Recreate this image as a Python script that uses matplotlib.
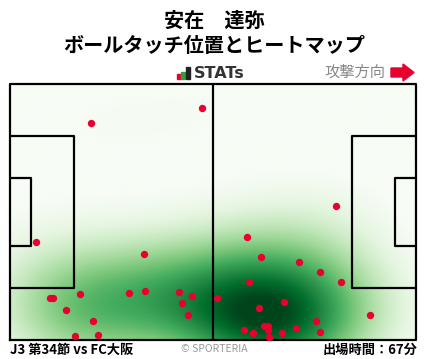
import numpy as np
import matplotlib.pyplot as plt
from matplotlib.patches import Rectangle, Polygon

plt.rcParams['font.family'] = ['Noto Sans CJK JP', 'DejaVu Sans']

# ボールタッチ位置 (m, 105x68, 左下原点)
touch_x = [21.0, 49.7, 84.4, 6.8, 34.7, 10.3, 11.2, 18.2, 30.9, 35.0,
           43.8, 47.1, 44.6, 46.1, 14.6, 21.5, 16.9, 22.8, 61.4, 65.0,
           74.8, 80.3, 85.7, 61.9, 53.6, 70.9, 64.5, 93.2, 79.2, 65.7,
           66.8, 60.6, 62.9, 66.8, 74.0, 70.4, 80.3, 67.1]
touch_y = [57.6, 61.5, 35.5, 26.0, 22.8, 11.1, 11.1, 12.1, 12.4, 12.9,
           12.7, 11.6, 9.7, 6.6, 7.9, 5.0, 1.0, 1.2, 27.3, 22.0,
           20.6, 18.0, 15.3, 15.3, 11.1, 10.0, 8.4, 6.6, 5.0, 3.6,
           3.6, 2.6, 1.8, 2.6, 3.1, 1.8, 2.0, 0.7]

title1 = "安在　達弥"
title2 = "ボールタッチ位置とヒートマップ"
match_label = "J3 第34節 vs FC大阪"
minutes_label = "出場時間：67分"

W, H = 428, 359
fig = plt.figure(figsize=(W / 100, H / 100), dpi=100)

def fx(px):
    return px / W

def fy(py):
    return 1 - py / H

ax = fig.add_axes([fx(10), fy(340), 406 / W, 256 / H])
ax.set_xlim(0, 105)
ax.set_ylim(0, 68)
ax.axis('off')

# ヒートマップ (ガウスKDE, 横長)
gx, gy = np.meshgrid(np.linspace(0, 105, 211), np.linspace(0, 68, 137))
bwx, bwy = 15.0, 11.0
dens = np.zeros_like(gx)
for x0, y0 in zip(touch_x, touch_y):
    dens += np.exp(-((gx - x0) ** 2 / (2 * bwx ** 2) + (gy - y0) ** 2 / (2 * bwy ** 2)))
ax.imshow(dens, extent=(0, 105, 0, 68), origin='lower', cmap='Greens',
          vmin=dens.max() * 0.07, vmax=dens.max() * 0.97, aspect='auto',
          interpolation='bilinear', zorder=0)

# ピッチ
lw = 1.6
ax.plot([0, 105, 105, 0, 0], [0, 0, 68, 68, 0], color='black', lw=lw, clip_on=False)
ax.plot([52.5, 52.5], [0, 68], color='black', lw=lw)
for side in (0, 1):
    x_pa = 16.5 if side == 0 else 105 - 16.5
    x_ga = 5.5 if side == 0 else 105 - 5.5
    x_edge = 0 if side == 0 else 105
    ax.plot([x_edge, x_pa, x_pa, x_edge], [13.84, 13.84, 54.16, 54.16], color='black', lw=lw)
    ax.plot([x_edge, x_ga, x_ga, x_edge], [24.84, 24.84, 43.16, 43.16], color='black', lw=lw)

ax.scatter(touch_x, touch_y, s=28, color='#e8002e', zorder=5, linewidths=0)

# タイトル
fig.text(0.5, fy(20), title1, ha='center', va='center', fontsize=14.5, fontweight='bold')
fig.text(0.5, fy(45), title2, ha='center', va='center', fontsize=14.5, fontweight='bold')

# STATs ロゴ
for bx, bh, bw_, bc in [(177, 5, 3.5, '#e8002e'), (181, 7, 3.5, '#2e9e3e'), (186, 12, 4, '#222222')]:
    fig.patches.append(Rectangle((fx(bx), fy(79)), bw_ / W, bh / H,
                                 transform=fig.transFigure, color=bc))
fig.text(fx(194), fy(73.5), "STATs", ha='left', va='center', fontsize=11.5,
         fontweight='bold', color='#333333', family='DejaVu Sans')

# 攻撃方向
fig.text(fx(385), fy(72), "攻撃方向", ha='right', va='center', fontsize=11, color='#888888')
arrow = [(391, 68), (403, 68), (403, 64), (414, 72.5), (403, 81), (403, 77), (391, 77)]
fig.patches.append(Polygon([(fx(a), fy(b)) for a, b in arrow], closed=True,
                           transform=fig.transFigure, color='#e8002e'))

# 下部テキスト
fig.text(fx(10), fy(350), match_label, ha='left', va='center', fontsize=9.5, fontweight='bold')
fig.text(0.5, fy(349), "© SPORTERIA", ha='center', va='center', fontsize=7.5, color='#999999')
fig.text(fx(417), fy(350), minutes_label, ha='right', va='center', fontsize=9.5, fontweight='bold')

fig.savefig('out.png', dpi=100)
